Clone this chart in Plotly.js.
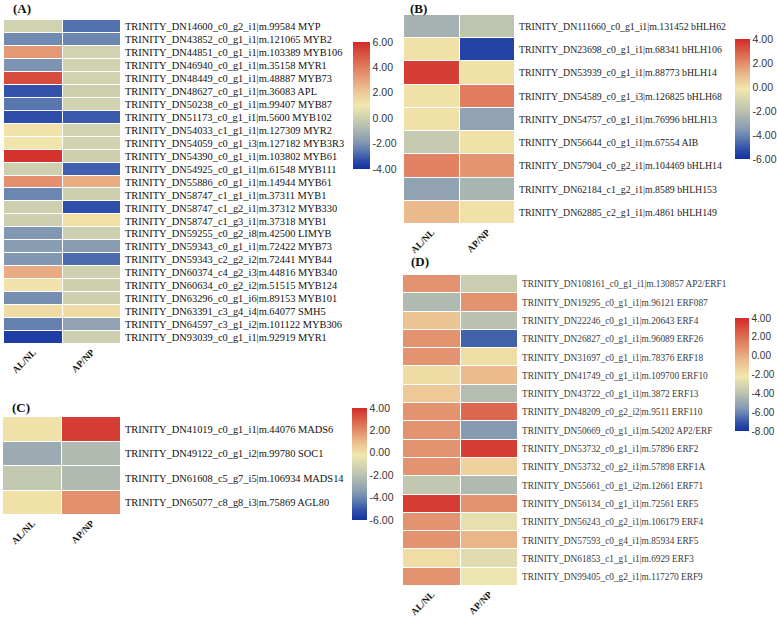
<!DOCTYPE html>
<html><head><meta charset="utf-8">
<script src="https://cdn.plot.ly/plotly-3.0.1.min.js"></script>
<style>html,body{margin:0;padding:0;background:#fff}#chart{width:777px;height:617px}</style>
</head><body><div id="chart"></div>
<script>
const columns = ['AL/NL', 'AP/NP'];

const genesA = [
  'TRINITY_DN14600_c0_g2_i1|m.99584 MYP',
  'TRINITY_DN43852_c0_g1_i1|m.121065 MYB2',
  'TRINITY_DN44851_c0_g1_i1|m.103389 MYB106',
  'TRINITY_DN46940_c0_g1_i1|m.35158 MYR1',
  'TRINITY_DN48449_c0_g1_i1|m.48887 MYB73',
  'TRINITY_DN48627_c0_g1_i1|m.36083 APL',
  'TRINITY_DN50238_c0_g1_i1|m.99407 MYB87',
  'TRINITY_DN51173_c0_g1_i1|m.5600 MYB102',
  'TRINITY_DN54033_c1_g1_i1|m.127309 MYR2',
  'TRINITY_DN54059_c0_g1_i3|m.127182 MYB3R3',
  'TRINITY_DN54390_c0_g1_i1|m.103802 MYB61',
  'TRINITY_DN54925_c0_g1_i1|m.61548 MYB111',
  'TRINITY_DN55886_c0_g1_i1|m.14944 MYB61',
  'TRINITY_DN58747_c1_g1_i1|m.37311 MYB1',
  'TRINITY_DN58747_c1_g2_i1|m.37312 MYB330',
  'TRINITY_DN58747_c1_g3_i1|m.37318 MYB1',
  'TRINITY_DN59255_c0_g2_i8|m.42500 LIMYB',
  'TRINITY_DN59343_c0_g1_i1|m.72422 MYB73',
  'TRINITY_DN59343_c2_g2_i2|m.72441 MYB44',
  'TRINITY_DN60374_c4_g2_i3|m.44816 MYB340',
  'TRINITY_DN60634_c0_g2_i2|m.51515 MYB124',
  'TRINITY_DN63296_c0_g1_i6|m.89153 MYB101',
  'TRINITY_DN63391_c3_g4_i4|m.64077 SMH5',
  'TRINITY_DN64597_c3_g1_i2|m.101122 MYB306',
  'TRINITY_DN93039_c0_g1_i1|m.92919 MYR1'
];
const alnlA = [0.1, -2.2, 3.3, -2.0, 5.2, -3.2, -2.6, -3.3, 1.2, 1.1, 5.8, 0.0, 3.5, -2.3, 0.0, 0.0, -1.9, -1.8, -1.9, 2.8, 1.2, -2.1, 1.4, -2.4, -3.7];
const apnpA = [-2.7, -2.3, 0.1, 0.1, 0.1, 0.0, 0.1, -3.1, 0.1, 0.1, 0.0, -3.0, 2.8, 0.0, -3.3, 1.3, 0.0, -1.8, -2.8, 0.0, 0.0, 0.0, 1.4, -1.6, 0.0];

const genesB = [
  'TRINITY_DN111660_c0_g1_i1|m.131452 bHLH62',
  'TRINITY_DN23698_c0_g1_i1|m.68341 bHLH106',
  'TRINITY_DN53939_c0_g1_i1|m.88773 bHLH14',
  'TRINITY_DN54589_c0_g1_i3|m.126825 bHLH68',
  'TRINITY_DN54757_c0_g1_i1|m.76996 bHLH13',
  'TRINITY_DN56644_c0_g1_i1|m.67554 AIB',
  'TRINITY_DN57904_c0_g2_i1|m.104469 bHLH14',
  'TRINITY_DN62184_c1_g2_i1|m.8589 bHLH153',
  'TRINITY_DN62885_c2_g1_i1|m.4861 bHLH149'
];
const alnlB = [-2.6, 0.0, 3.6, 0.0, 0.0, -1.6, 2.2, -3.2, 1.0];
const apnpB = [-1.9, -5.5, 0.0, 2.3, -3.2, 0.0, 1.8, -2.5, 0.0];

const genesC = [
  'TRINITY_DN41019_c0_g1_i1|m.44076 MADS6',
  'TRINITY_DN49122_c0_g1_i2|m.99780 SOC1',
  'TRINITY_DN61608_c5_g7_i5|m.106934 MADS14',
  'TRINITY_DN65077_c8_g8_i3|m.75869 AGL80'
];
const alnlC = [0.0, -2.9, -1.7, 0.0];
const apnpC = [3.6, -2.3, -2.3, 1.9];

const genesD = [
  'TRINITY_DN108161_c0_g1_i1|m.130857 AP2/ERF1',
  'TRINITY_DN19295_c0_g1_i1|m.96121 ERF087',
  'TRINITY_DN22246_c0_g1_i1|m.20643 ERF4',
  'TRINITY_DN26827_c0_g1_i1|m.96089 ERF26',
  'TRINITY_DN31697_c0_g1_i1|m.78376 ERF18',
  'TRINITY_DN41749_c0_g1_i1|m.109700 ERF10',
  'TRINITY_DN43722_c0_g1_i1|m.3872 ERF13',
  'TRINITY_DN48209_c0_g2_i2|m.9511 ERF110',
  'TRINITY_DN50669_c0_g1_i1|m.54202 AP2/ERF',
  'TRINITY_DN53732_c0_g1_i1|m.57896 ERF2',
  'TRINITY_DN53732_c0_g2_i1|m.57898 ERF1A',
  'TRINITY_DN55661_c0_g1_i2|m.12661 ERF71',
  'TRINITY_DN56134_c0_g1_i1|m.72561 ERF5',
  'TRINITY_DN56243_c0_g2_i1|m.106179 ERF4',
  'TRINITY_DN57593_c0_g4_i1|m.85934 ERF5',
  'TRINITY_DN61853_c1_g1_i1|m.6929 ERF3',
  'TRINITY_DN99405_c0_g2_i1|m.117270 ERF9'
];
const alnlD = [0.8, -4.3, -0.8, 0.8, 0.8, -1.7, -1.0, 0.8, 0.8, 0.8, 0.8, -3.8, 3.4, 0.8, 0.8, -1.8, 0.8];
const apnpD = [-3.5, 0.8, -4.0, -6.8, -1.8, -0.5, -4.2, 2.2, -5.5, 3.4, -1.3, -4.3, 0.8, -2.6, -0.3, -2.8, -2.4];

const ticksA = [-4, -2, 0, 2, 4, 6];
const ticksBC = [-6, -4, -2, 0, 2, 4];
const ticksD = [-8, -6, -4, -2, 0, 2, 4];

const W = 777, H = 617;

// colour stops relative to the cream midpoint: low half then high half
const lowStops = [[0.00, '#1232a3'], [0.15, '#3050aa'], [0.30, '#5f7db0'], [0.45, '#8b9eb2'], [0.70, '#bcc3b0'], [1.00, '#f1e8ae']];
const highStops = [[0.24, '#ecc393'], [0.50, '#e4906e'], [0.76, '#da5d48'], [1.00, '#d32a28']];
function makeScale(mid) {
  const s = lowStops.map(p => [p[0] * mid, p[1]]);
  highStops.forEach(p => s.push([mid + p[0] * (1 - mid), p[1]]));
  return s;
}

function zOf(a, b) { return a.map((v, i) => [v, b[i]]); }
function fx(px) { return px / W; }
function fy(py) { return 1 - py / H; }

function cbar(x, top, bottom, thick, vals, fsize) {
  return {
    x: fx(x), xanchor: 'left', xpad: 0,
    y: fy(top), yanchor: 'top', ypad: 0,
    len: bottom - top, lenmode: 'pixels',
    thickness: thick, thicknessmode: 'pixels',
    outlinewidth: 0, ticks: '',
    tickvals: vals, ticktext: vals.map(v => v.toFixed(2)),
    tickfont: {family: 'Liberation Sans, Arial, sans-serif', size: fsize, color: '#333'}
  };
}

function hm(genes, a, b, xa, ya, zmin, zmax, mid, cb) {
  return {
    type: 'heatmap', x: columns, y: genes, z: zOf(a, b),
    xaxis: xa, yaxis: ya, zmin: zmin, zmax: zmax,
    colorscale: makeScale(mid), xgap: 1, ygap: 1,
    colorbar: cb, hoverinfo: 'x+y+z'
  };
}

const data = [
  hm(genesA, alnlA, apnpA, 'x', 'y', -4, 6, 0.50, cbar(353, 42, 169, 17, ticksA, 10.5)),
  hm(genesB, alnlB, apnpB, 'x2', 'y2', -6, 4, 0.58, cbar(735, 39, 159, 15, ticksBC, 10.5)),
  hm(genesC, alnlC, apnpC, 'x3', 'y3', -6, 4, 0.58, cbar(352, 408, 520, 15, ticksBC, 10.5)),
  hm(genesD, alnlD, apnpD, 'x4', 'y4', -8, 4, 0.48, cbar(735, 318, 431, 14, ticksD, 10))
];

function xax(l, r, anchor) {
  return {
    domain: [fx(l), fx(r)], anchor: anchor, tickangle: -45, ticks: '',
    showgrid: false, zeroline: false, showline: false, fixedrange: true,
    ticklabelstandoff: 0,
    tickfont: {family: 'Liberation Serif, Times New Roman, serif', size: 9.5, color: '#111', weight: 'bold'}
  };
}
function yax(genes, top, bottom, anchor, size, color) {
  return {
    domain: [fy(bottom), fy(top)], anchor: anchor, side: 'right', autorange: 'reversed',
    type: 'category', tickmode: 'array', tickvals: genes, ticktext: genes,
    ticks: '', showgrid: false, zeroline: false, showline: false, fixedrange: true,
    ticklabelstandoff: 3,
    tickfont: {family: 'Liberation Serif, Times New Roman, serif', size: size, color: color}
  };
}

function panelLabel(t, x, y) {
  return {text: '<b>' + t + '</b>', xref: 'paper', yref: 'paper', x: fx(x), y: fy(y),
    xanchor: 'left', yanchor: 'middle', showarrow: false,
    font: {family: 'Liberation Serif, Times New Roman, serif', size: 13, color: '#111'}};
}

const layout = {
  width: W, height: H,
  margin: {l: 0, r: 0, t: 0, b: 0},
  paper_bgcolor: '#fff', plot_bgcolor: '#fff',
  showlegend: false,
  xaxis: xax(4, 121, 'y'),
  yaxis: yax(genesA, 20, 344, 'x', 10.4, '#111'),
  xaxis2: xax(404, 515, 'y2'),
  yaxis2: yax(genesB, 15, 224, 'x2', 9.8, '#222'),
  xaxis3: xax(3, 121, 'y3'),
  yaxis3: yax(genesC, 417, 515, 'x3', 10.4, '#111'),
  xaxis4: xax(403, 518, 'y4'),
  yaxis4: yax(genesD, 275, 586, 'x4', 9.3, '#3a3a3a'),
  annotations: [
    panelLabel('(A)', 11, 8),
    panelLabel('(B)', 408, 8),
    panelLabel('(C)', 10, 407),
    panelLabel('(D)', 409, 262)
  ]
};

Plotly.newPlot('chart', data, layout, {displayModeBar: false, staticPlot: true});
</script>
</body></html>
